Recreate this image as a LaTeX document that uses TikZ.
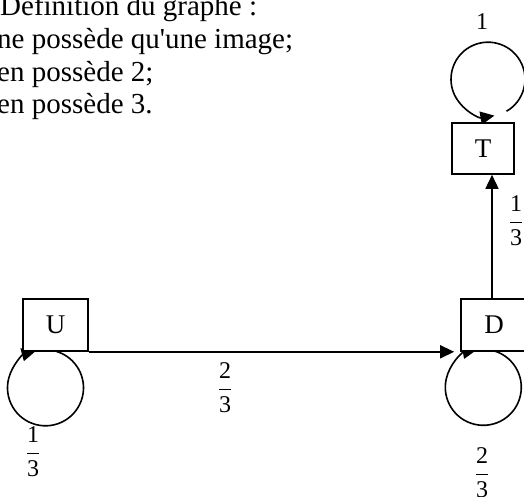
\documentclass[tikz,border=0pt]{standalone}
\usepackage{fontspec}
\setmainfont{Liberation Serif}[Ligatures=TeXOff]
\usetikzlibrary{arrows.meta}
\pgfdeclarelayer{bg}
\pgfdeclarelayer{loops}
\pgfsetlayers{bg,loops,main}
\begin{document}
\begin{tikzpicture}[x=1pt,y=1pt,
  box/.style={draw, line width=1.6pt, fill=white, minimum height=52pt, inner sep=0pt, font=\fontsize{27}{31}\selectfont},
  conn/.style={line width=1.6pt, -{Triangle[length=14pt,width=13pt]}},
  lab/.style={inner sep=0pt, font=\fontsize{24}{28}\selectfont},
  txt/.style={anchor=base west, inner sep=0pt, font=\fontsize{29}{33}\selectfont}]
\useasboundingbox (0,0) rectangle (524,496);
\clip (0,0) rectangle (524,496);
\begin{pgfonlayer}{bg}
\fill[white] (0,0) rectangle (524,496);
\end{pgfonlayer}
% heading text
\node[txt] (l1) at (0,480) {Définition du graphe :};
\node[txt] (l2) at (-3,447) {ne possède qu'une image;};
\node[txt] (l3) at (-3,414) {en possède 2;};
\node[txt] (l4) at (-3,382) {en possède 3.};
% boxes
\node[box, minimum width=65pt] (U) at (55.5,171) {U};
\node[box, minimum width=66pt] (D) at (494,171) {D};
\node[box, minimum width=62pt, minimum height=51pt] (T) at (483,347.5) {T};
% loops
\coordinate (Tc) at ([shift={(5,43)}]T.north);
\coordinate (Uc) at ([shift={(-10,-36)}]U.south);
\coordinate (Dc) at ([shift={(-10.7,-35.5)}]D.south);
\begin{pgfonlayer}{loops}
\draw[conn] ([shift={(-60:37)}]Tc) arc[start angle=-60, end angle=280, radius=37];
\draw[conn] ([shift={(75:38)}]Uc) arc[start angle=75, end angle=-255, radius=38];
\draw[conn] ([shift={(77:38)}]Dc) arc[start angle=77, end angle=-260, radius=38];
\end{pgfonlayer}
% connectors
\draw[conn, shorten >=6pt] (U.south east) -- (D.south west);
\draw[conn] ([xshift=-2pt]D.north) -- ([xshift=-2pt]D.north |- T.south);
% labels
\node[lab] (lt) at (482,474) {1};
\node[lab] (ldt) at (516,275) {$\displaystyle\frac{\mbox{1}}{\mbox{3}}$};
\node[lab] (lud) at (225,108) {$\displaystyle\frac{\mbox{2}}{\mbox{3}}$};
\node[lab] (lu) at (33,44) {$\displaystyle\frac{\mbox{1}}{\mbox{3}}$};
\node[lab] (ld) at (482,23) {$\displaystyle\frac{\mbox{2}}{\mbox{3}}$};
\end{tikzpicture}
\end{document}
